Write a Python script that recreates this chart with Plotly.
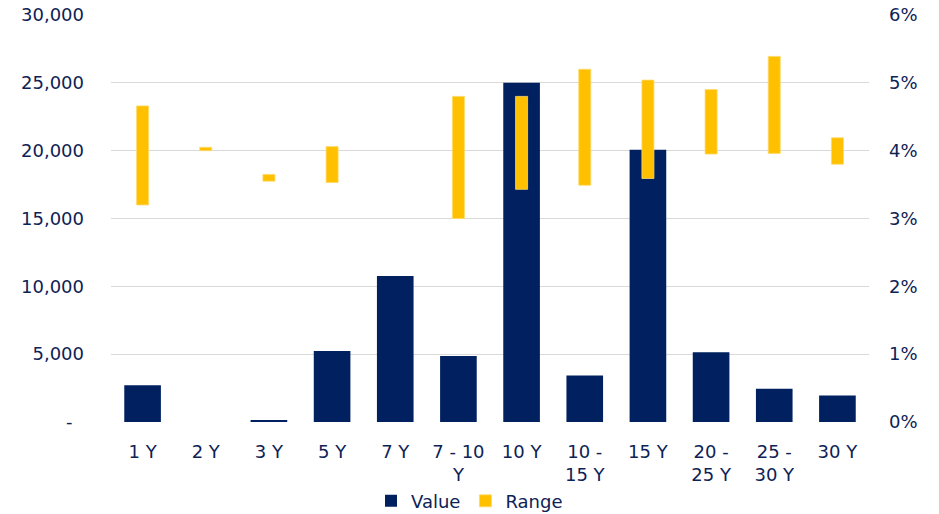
import plotly.graph_objects as go

categories = ["1 Y", "2 Y", "3 Y", "5 Y", "7 Y", "7 - 10<br>Y", "10 Y", "10 -<br>15 Y",
              "15 Y", "20 -<br>25 Y", "25 -<br>30 Y", "30 Y"]
values = [2700, 0, 150, 5240, 10770, 4870, 25000, 3420, 20060, 5140, 2460, 1950]
range_low = [3.20, 4.00, 3.55, 3.53, None, 3.00, 3.43, 3.49, 3.59, 3.95, 3.96, 3.80]
range_high = [4.66, 4.05, 3.65, 4.06, None, 4.80, 4.80, 5.20, 5.04, 4.90, 5.39, 4.19]

left_ticks = [0, 5000, 10000, 15000, 20000, 25000, 30000]
left_ticktext = ["-\u00a0\u00a0", "5,000", "10,000", "15,000", "20,000", "25,000", "30,000"]
right_ticks = [0, 1, 2, 3, 4, 5, 6]
right_ticktext = ["0%", "1%", "2%", "3%", "4%", "5%", "6%"]

NAVY = "#002060"
GOLD = "#FFC000"
TEXT = "#0D2255"
FONT = "DejaVu Sans"

range_len = [None if (h is None or l is None) else h - l for l, h in zip(range_low, range_high)]

fig = go.Figure()
fig.add_trace(go.Bar(x=categories, y=values, name="Value",
                     marker=dict(color=NAVY, line=dict(width=0)),
                     width=0.58, yaxis="y"))
fig.add_trace(go.Bar(x=categories, y=range_len, base=range_low, name="Range",
                     marker=dict(color=GOLD, line=dict(color="#ffd966", width=0.8)),
                     width=0.19, yaxis="y2"))

fig.update_layout(
    width=939, height=514,
    margin=dict(l=111, r=70, t=15, b=92, autoexpand=False),
    plot_bgcolor="white", paper_bgcolor="white",
    barmode="overlay",
    font=dict(family=FONT, size=18, color=TEXT),
    xaxis=dict(type="category", showgrid=False, showline=False, ticks="", automargin=False,
               tickfont=dict(size=18, color=TEXT), ticklabelstandoff=17),
    yaxis=dict(range=[0, 30000], tickvals=left_ticks, ticktext=left_ticktext, automargin=False,
               showgrid=True, gridcolor="#D9D9D9", gridwidth=1.3, zeroline=False,
               showline=False, ticks="", tickfont=dict(size=18, color=TEXT), ticklabelstandoff=26),
    yaxis2=dict(range=[0, 6], tickvals=right_ticks, ticktext=right_ticktext, overlaying="y",
                side="right", showgrid=False, zeroline=False, showline=False, ticks="",
                automargin=False, tickfont=dict(size=18, color=TEXT), ticklabelstandoff=19),
    legend=dict(orientation="h", x=0.5, xanchor="center", xref="container",
                y=0.025, yanchor="middle", yref="container",
                font=dict(size=18, color=TEXT), traceorder="normal"),
    showlegend=True,
)

fig.write_html("out.html")
